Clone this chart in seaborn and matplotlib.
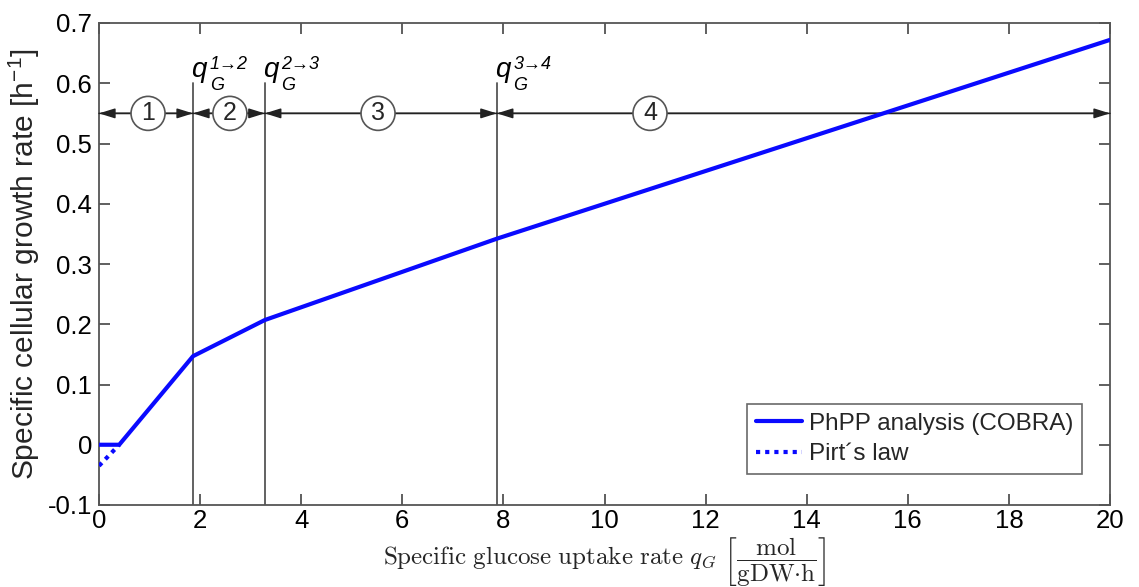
import numpy as np
import pandas as pd
import matplotlib
matplotlib.use("Agg")
import matplotlib.pyplot as plt
import seaborn as sns

# Growth curve breakpoints from the phenotypic phase plane analysis
qg_cobra = [0.0, 0.40, 1.86, 3.28, 7.87, 20.0]
mu_cobra = [0.0, 0.0, 0.147, 0.207, 0.342, 0.672]

# Pirt's law extension below the maintenance threshold
qg_pirt = [0.0, 0.40]
mu_pirt = [-0.035, 0.0]

# Phase transition points and phase labels
transitions = [1.86, 3.28, 7.87]
transition_labels = ["1→2", "2→3", "3→4"]
phase_edges = [0.0, 1.86, 3.28, 7.87, 20.0]
phase_names = ["1", "2", "3", "4"]
phase_label_x = [0.97, 2.59, 5.52, 10.9]

x_ticks = [0, 2, 4, 6, 8, 10, 12, 14, 16, 18, 20]
y_ticks = [-0.1, 0, 0.1, 0.2, 0.3, 0.4, 0.5, 0.6, 0.7]
y_ticklabels = ["-0.1", "0", "0.1", "0.2", "0.3", "0.4", "0.5", "0.6", "0.7"]

sns.set_theme(style="white")
plt.rcParams["font.family"] = ["Liberation Sans", "DejaVu Sans"]
plt.rcParams["mathtext.fontset"] = "custom"
plt.rcParams["mathtext.rm"] = "Liberation Sans"
plt.rcParams["mathtext.it"] = "Liberation Sans:italic"

fig = plt.figure(figsize=(11.39, 5.87), dpi=100)
ax = fig.add_axes([99 / 1139, 1 - 505 / 587, (1110 - 99) / 1139, (505 - 23) / 587])

df_cobra = pd.DataFrame({"qG": qg_cobra, "mu": mu_cobra})
df_pirt = pd.DataFrame({"qG": qg_pirt, "mu": mu_pirt})
sns.lineplot(data=df_cobra, x="qG", y="mu", ax=ax, color="#0a0aff", lw=3,
             label="PhPP analysis (COBRA)", zorder=5)
sns.lineplot(data=df_pirt, x="qG", y="mu", ax=ax, color="#0a0aff", lw=3,
             linestyle=(0, (1, 1.2)), label="Pirt´s law", zorder=5)

ax.set_xlim(0, 20)
ax.set_ylim(-0.1, 0.7)
ax.set_xticks(x_ticks)
ax.set_xticklabels([str(t) for t in x_ticks])
ax.set_yticks(y_ticks)
ax.set_yticklabels(y_ticklabels)
ax.tick_params(direction="in", length=8, width=1.2, colors="#444444",
               labelcolor="black", labelsize=18.5, top=True, right=True,
               bottom=True, left=True)
ax.tick_params(axis="y", pad=5)
ax.tick_params(axis="x", pad=3)
for s in ax.spines.values():
    s.set_color("#555555")
    s.set_linewidth(1.3)

# Transition lines and their labels (q with superscript transition and subscript G)
for xt, lab in zip(transitions, transition_labels):
    ax.plot([xt, xt], [-0.1, 0.6], color="#555555", lw=1.3, zorder=3)
    ax.text(xt - 0.03, 0.61, "q", fontsize=20, style="italic",
            ha="left", va="baseline", color="black")
    ax.text(xt + 0.33, 0.617, lab, fontsize=13, style="italic",
            ha="left", va="bottom", color="black")
    ax.text(xt + 0.33, 0.611, "G", fontsize=13, style="italic",
            ha="left", va="top", color="black")

# Phase span arrows with circled phase numbers
for i, name in enumerate(phase_names):
    x0, x1 = phase_edges[i], phase_edges[i + 1]
    ax.annotate("", xy=(x0, 0.55), xytext=(x1, 0.55),
                arrowprops=dict(arrowstyle="-|>,head_length=0.8,head_width=0.25",
                                color="#222222", lw=1.1, shrinkA=0, shrinkB=0))
    ax.annotate("", xy=(x1, 0.55), xytext=(x0, 0.55),
                arrowprops=dict(arrowstyle="-|>,head_length=0.8,head_width=0.25",
                                color="#222222", lw=1.1, shrinkA=0, shrinkB=0))
    ax.text(phase_label_x[i], 0.55, name, fontsize=18, ha="center", va="center",
            zorder=6,
            bbox=dict(boxstyle="circle,pad=0.2", fc="white", ec="#555555", lw=1.2))

ax.set_ylabel("Specific cellular growth rate [h$^{-1}$]", fontsize=21.5,
              labelpad=4)
ax.set_xlabel(r"$\mathrm{Specific\ glucose\ uptake\ rate}\ q_G\ "
              r"\left[\dfrac{\mathrm{mol}}{\mathrm{gDW{\cdot}h}}\right]$",
              fontsize=18, math_fontfamily="cm", labelpad=1)

leg = ax.legend(loc="lower right", bbox_to_anchor=(0.977, 0.055), fontsize=17.5,
                frameon=True, fancybox=False, handlelength=1.9,
                handletextpad=0.3, borderpad=0.35, labelspacing=0.35,
                borderaxespad=0.2)
leg.get_frame().set_edgecolor("#444444")
leg.get_frame().set_linewidth(1.2)

fig.savefig("out.png", dpi=100)
